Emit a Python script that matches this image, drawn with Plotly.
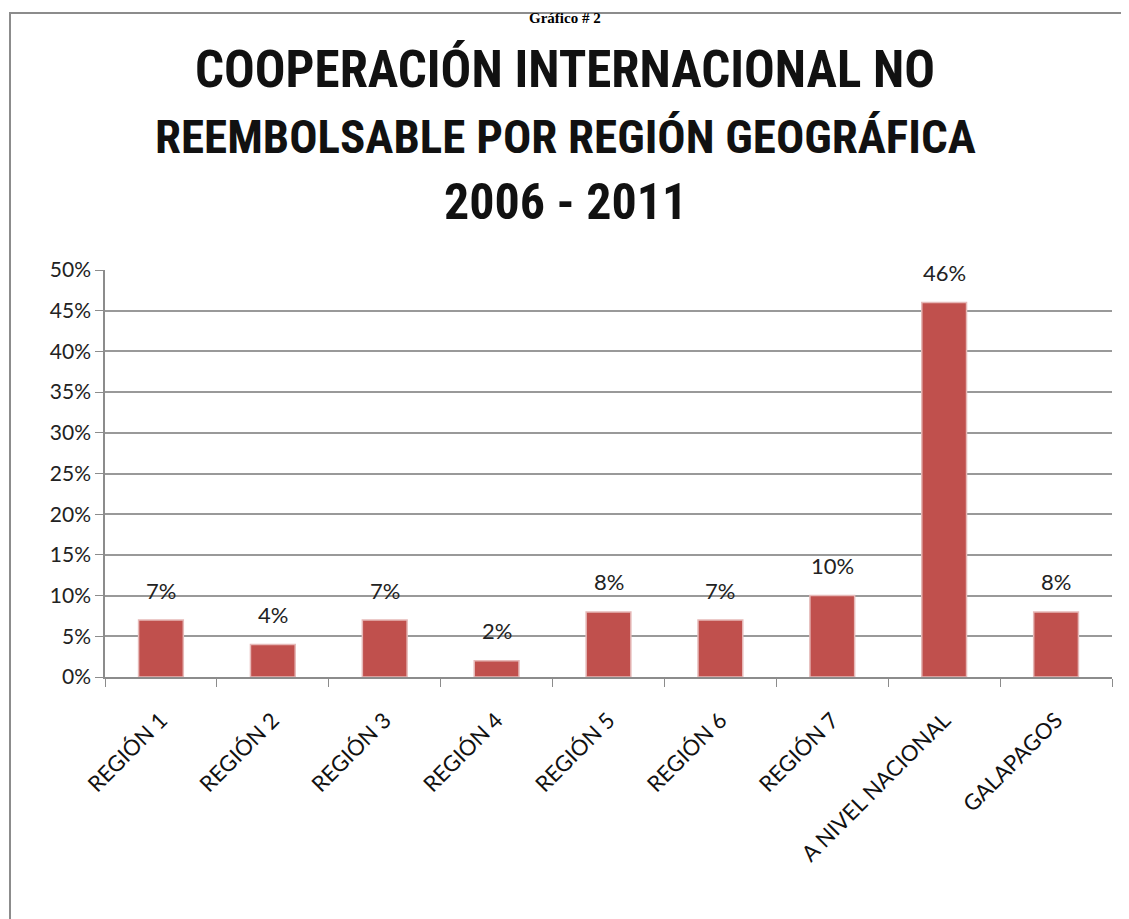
import plotly.graph_objects as go

categories = ["REGIÓN 1", "REGIÓN 2", "REGIÓN 3", "REGIÓN 4", "REGIÓN 5",
              "REGIÓN 6", "REGIÓN 7", "A NIVEL NACIONAL", "GALAPAGOS"]
values = [0.07, 0.04, 0.07, 0.02, 0.08, 0.07, 0.10, 0.46, 0.08]
title_lines = ["COOPERACIÓN INTERNACIONAL NO",
               "REEMBOLSABLE POR REGIÓN GEOGRÁFICA",
               "2006 - 2011"]
caption = "Gráfico # 2"

W, H = 1129, 919
OFF = 8  # page offset of the figure
# target plot area in page pixels: x 105..1112, y 270..677
L = 105 - OFF
T = 270 - OFF
R = W - (1112 - OFF)
B = H - (677 - OFF)
pw = W - L - R
ph = H - T - B

def px_x(x):
    return (x - OFF - L) / pw

def px_y(y):
    return (H - B - (y - OFF)) / ph

fig = go.Figure()
fig.add_trace(go.Bar(
    x=categories, y=values,
    marker=dict(color="#C0504D", line=dict(color="#E6B9B8", width=1.5)),
    cliponaxis=False,
))

for c, v in zip(categories, values):
    fig.add_annotation(x=c, y=v, text=f"{v:.0%}", showarrow=False,
                       yanchor="middle", yshift=30,
                       font=dict(family="Lato", size=22, color="#222222"))

fig.update_layout(
    width=W, height=H,
    margin=dict(l=L, r=R, t=T, b=B, autoexpand=False),
    paper_bgcolor="white", plot_bgcolor="white",
    bargap=0.6,
    showlegend=False,
    font=dict(family="Lato", color="#222222"),
    xaxis=dict(
        type="category", tickangle=-45, tickson="boundaries",
        ticks="outside", ticklen=8, tickcolor="#8c8c8c",
        showline=True, linecolor="#8c8c8c", linewidth=1.5,
        tickfont=dict(family="Lato", size=22, color="#111111"),
        ticklabelstandoff=20,
        showgrid=False, automargin=False,
    ),
    yaxis=dict(
        range=[0, 0.5], dtick=0.05, tickformat=".0%",
        ticks="outside", ticklen=8, tickcolor="#8c8c8c",
        showline=True, linecolor="#8c8c8c", linewidth=1.5,
        showgrid=True, gridcolor="#999999", gridwidth=2,
        tickfont=dict(family="Lato", size=21, color="#222222"),
        zeroline=False, automargin=False,
    ),
)

fig.add_shape(type="rect", xref="paper", yref="paper",
              x0=px_x(10), x1=px_x(1145), y0=px_y(940), y1=px_y(13),
              line=dict(color="#8c8c8c", width=2), fillcolor="rgba(0,0,0,0)",
              layer="below")

title_y = [70, 136, 202]
title_size = [51, 47, 50]
for line, yy, sz in zip(title_lines, title_y, title_size):
    fig.add_annotation(text="<b>" + line + "</b>", xref="paper", yref="paper",
                       x=px_x(565), y=px_y(yy), xanchor="center", yanchor="middle",
                       showarrow=False,
                       font=dict(family="Roboto Condensed, Liberation Sans Narrow, Lato",
                                 size=sz, color="#111111"))

fig.add_annotation(text="<b>" + caption + "</b>", xref="paper", yref="paper",
                   x=px_x(565), y=px_y(8), xanchor="center", yanchor="top",
                   showarrow=False,
                   font=dict(family="Liberation Serif", size=15, color="#000000"))

fig.write_html("out.html")
